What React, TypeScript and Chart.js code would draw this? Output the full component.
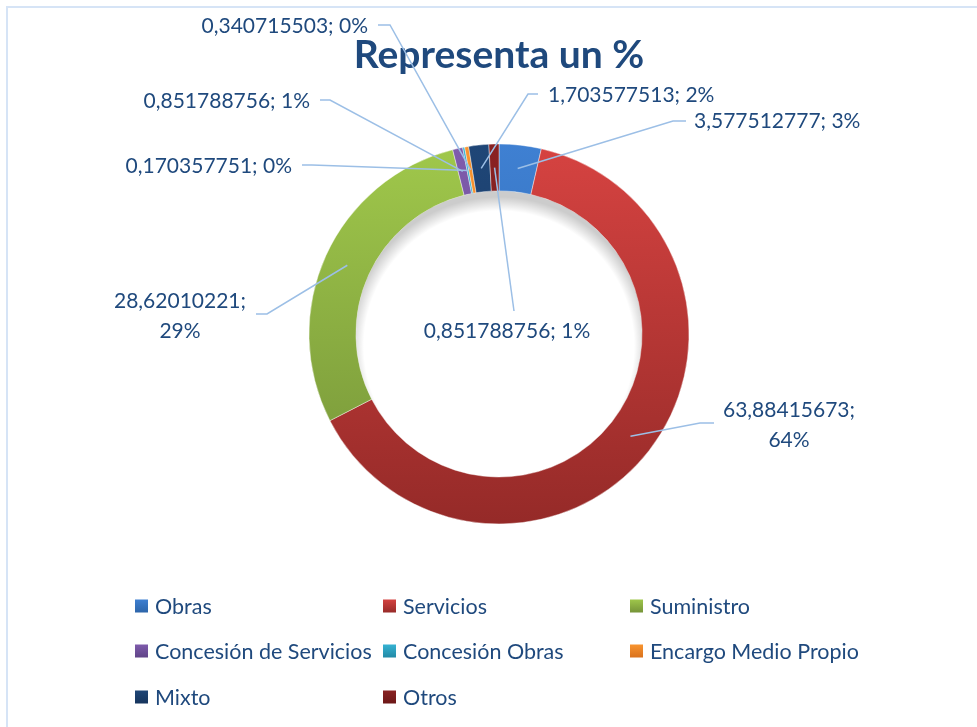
import React, { useEffect, useRef } from 'react';
import { Chart, registerables } from 'chart.js';
Chart.register(...registerables);

const categories = ['Obras', 'Servicios', 'Suministro', 'Concesión de Servicios', 'Concesión Obras', 'Encargo Medio Propio', 'Mixto', 'Otros'];
const values = [3.577512777, 63.88415673, 28.62010221, 0.851788756, 0.170357751, 0.340715503, 1.703577513, 0.851788756];
const percentLabels = ['3%', '64%', '29%', '1%', '0%', '0%', '2%', '1%'];
const titleText = 'Representa un %';

const colorTop = ['#3f80d2', '#d64341', '#a0c84b', '#7f5cad', '#36b4d4', '#f9952f', '#1f4677', '#8a2222'];
const colorBottom = ['#2c64a8', '#952a28', '#749238', '#5f4386', '#2188a4', '#d8701c', '#16345c', '#6b1717'];

// label layout: text position, alignment, elbow and end of leader line, whether split in two lines
const labelLayout = [
  { tx: 694, ty: 121, align: 'left', elbow: [673, 121], end: [686, 121], split: false },
  { tx: 789, ty: 410, align: 'center', elbow: [700, 423], end: [714, 423], split: true },
  { tx: 180, ty: 301, align: 'center', elbow: [267, 314], end: [256, 314], split: true },
  { tx: 310, ty: 101, align: 'right', elbow: [330, 100], end: [320, 100], split: false },
  { tx: 292, ty: 166, align: 'right', elbow: [312, 165], end: [302, 165], split: false },
  { tx: 368, ty: 26, align: 'right', elbow: [390, 25], end: [378, 25], split: false },
  { tx: 548, ty: 95, align: 'left', elbow: [528, 94], end: [538, 94], split: false },
  { tx: 507, ty: 331, align: 'center', elbow: null, end: [514, 311], split: false },
];

const legendCols = [135, 383, 630];
const legendRows = [606, 651, 697];

const FONT = 'Lato, "Open Sans", "Noto Sans", sans-serif';
const TEXT_COLOR = '#1f497d';
const LEADER_COLOR = '#9cbfe6';
const RADIUS = 190;

const fmt = (v: number) => String(v).replace('.', ',');

const decorPlugin = {
  id: 'decor',
  beforeDraw(chart: any) {
    const ctx = chart.ctx;
    ctx.save();
    ctx.fillStyle = '#ffffff';
    ctx.fillRect(0, 0, chart.width, chart.height);
    // frame
    ctx.strokeStyle = '#d6e4f6';
    ctx.lineWidth = 2;
    ctx.beginPath();
    ctx.moveTo(7, chart.height);
    ctx.lineTo(7, 7);
    ctx.lineTo(chart.width, 7);
    ctx.stroke();
    // title
    ctx.fillStyle = TEXT_COLOR;
    ctx.font = `bold 39px ${FONT}`;
    ctx.textAlign = 'center';
    ctx.textBaseline = 'alphabetic';
    ctx.fillText(titleText, 499, 68);
    ctx.restore();
  },
  afterDatasetsDraw(chart: any) {
    const ctx = chart.ctx;
    const meta = chart.getDatasetMeta(0);
    const first = meta.data[0];
    const cx = first.x;
    const cy = first.y;
    const inner = first.innerRadius;
    ctx.save();
    // inner shadow in the hole (stronger at the top)
    ctx.beginPath();
    ctx.arc(cx, cy, inner, 0, Math.PI * 2);
    ctx.clip();
    const g = ctx.createRadialGradient(cx, cy + 12, inner - 8, cx, cy + 12, inner + 6);
    g.addColorStop(0, 'rgba(0,0,0,0)');
    g.addColorStop(1, 'rgba(0,0,0,0.2)');
    ctx.fillStyle = g;
    ctx.fillRect(cx - inner, cy - inner, inner * 2, inner * 2);
    ctx.restore();

    // leader lines and labels
    ctx.save();
    ctx.font = `21px ${FONT}`;
    ctx.textBaseline = 'middle';
    meta.data.forEach((arc: any, i: number) => {
      const L = labelLayout[i];
      const mid = (arc.startAngle + arc.endAngle) / 2;
      const r = (arc.innerRadius + arc.outerRadius) / 2;
      const ax = cx + Math.cos(mid) * r;
      const ay = cy + Math.sin(mid) * r;
      ctx.strokeStyle = LEADER_COLOR;
      ctx.lineWidth = 1.5;
      ctx.beginPath();
      ctx.moveTo(ax, ay);
      if (L.elbow) ctx.lineTo(L.elbow[0], L.elbow[1]);
      ctx.lineTo(L.end[0], L.end[1]);
      ctx.stroke();
      ctx.fillStyle = TEXT_COLOR;
      ctx.textAlign = L.align;
      const valueText = fmt(values[i]) + ';';
      if (L.split) {
        ctx.fillText(valueText, L.tx, L.ty);
        ctx.fillText(percentLabels[i], L.tx, L.ty + 30);
      } else {
        ctx.fillText(valueText + ' ' + percentLabels[i], L.tx, L.ty);
      }
    });
    ctx.restore();

    // legend
    ctx.save();
    ctx.font = `21.5px ${FONT}`;
    ctx.textBaseline = 'middle';
    ctx.textAlign = 'left';
    categories.forEach((name, i) => {
      const x = legendCols[i % 3];
      const y = legendRows[Math.floor(i / 3)];
      const lg = ctx.createLinearGradient(0, y - 7, 0, y + 7);
      lg.addColorStop(0, colorTop[i]);
      lg.addColorStop(1, colorBottom[i]);
      ctx.fillStyle = lg;
      ctx.fillRect(x, y - 6.5, 13, 13);
      ctx.fillStyle = TEXT_COLOR;
      ctx.fillText(name, x + 20, y + 1);
    });
    ctx.restore();
  },
};

export default function App() {
  const ref = useRef<HTMLCanvasElement | null>(null);
  useEffect(() => {
    if (!ref.current) return;
    const chart = new Chart(ref.current, {
      type: 'doughnut',
      data: {
        labels: categories,
        datasets: [
          {
            data: values,
            backgroundColor: (c: any) => {
              const i = c.dataIndex;
              const ca = c.chart.chartArea;
              if (!ca) return colorTop[i];
              const cy = (ca.top + ca.bottom) / 2;
              const g = c.chart.ctx.createLinearGradient(0, cy - RADIUS, 0, cy + RADIUS);
              g.addColorStop(0, colorTop[i]);
              g.addColorStop(1, colorBottom[i]);
              return g;
            },
            borderColor: 'rgba(255,255,255,0.55)',
            borderWidth: 0.75,
          },
        ],
      },
      options: {
        responsive: false,
        animation: false,
        events: [],
        radius: RADIUS,
        cutout: '75.3%',
        layout: { padding: { left: 21, right: 0, top: 0, bottom: 59 } },
        plugins: {
          legend: { display: false },
          tooltip: { enabled: false },
          title: { display: false },
        },
      } as any,
      plugins: [decorPlugin],
    });
    return () => chart.destroy();
  }, []);
  return (
    <div style={{ position: 'fixed', left: 0, top: 0, width: 977, height: 727, background: '#fff' }}>
      <canvas ref={ref} width={977} height={727} style={{ display: 'block' }} />
    </div>
  );
}
